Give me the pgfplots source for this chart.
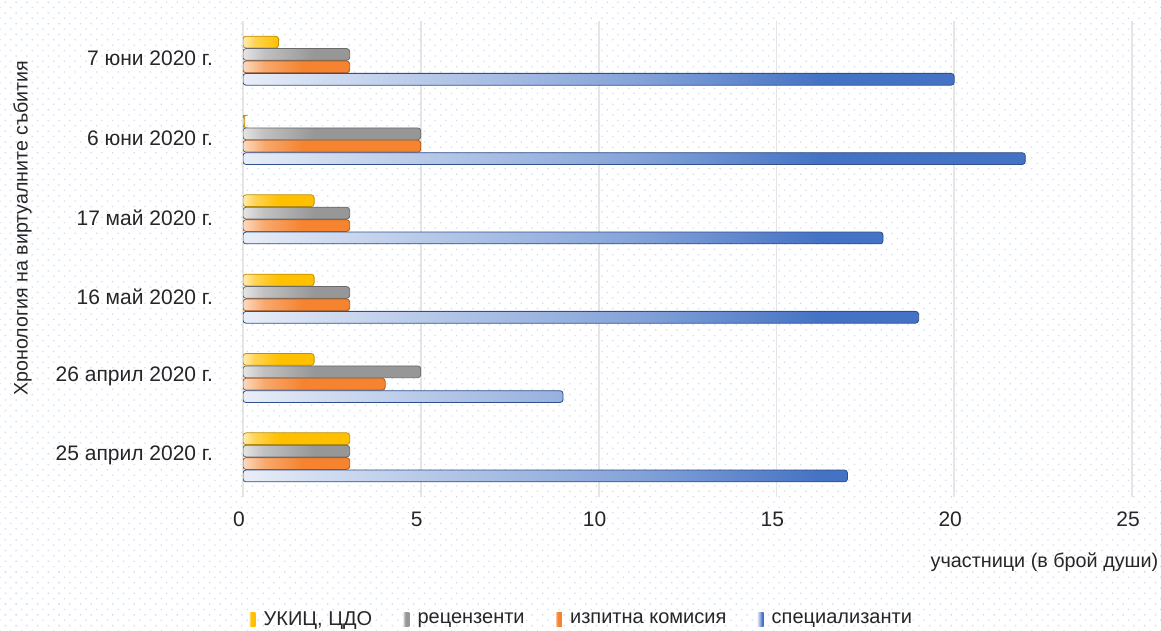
\documentclass[border=0pt]{standalone}
\usepackage{pgfplots}
\pgfplotsset{compat=1.18}
\usepackage{fontspec}
\setmainfont{Liberation Sans}
\usetikzlibrary{patterns.meta}
\definecolor{cYel}{HTML}{FFC000}
\definecolor{cGry}{HTML}{979797}
\definecolor{cOrg}{HTML}{F5832F}
\definecolor{cBlu}{HTML}{4472C4}
\definecolor{cDot}{HTML}{CCDCF2}
\pgfdeclarehorizontalshading{shY}{100bp}{color(0bp)=(cYel!30); color(25bp)=(cYel!30); color(31bp)=(cYel!70); color(42bp)=(cYel); color(100bp)=(cYel)}
\pgfdeclarehorizontalshading{shG}{100bp}{color(0bp)=(cGry!25); color(25bp)=(cGry!25); color(31bp)=(cGry!60); color(45bp)=(cGry); color(100bp)=(cGry)}
\pgfdeclarehorizontalshading{shO}{100bp}{color(0bp)=(cOrg!30); color(25bp)=(cOrg!30); color(31bp)=(cOrg!70); color(42bp)=(cOrg); color(100bp)=(cOrg)}
\pgfdeclarehorizontalshading{shB}{100bp}{color(0bp)=(cBlu!12); color(25bp)=(cBlu!12); color(30bp)=(cBlu!25); color(50bp)=(cBlu!65); color(62bp)=(cBlu); color(100bp)=(cBlu)}
\begin{document}
\begin{tikzpicture}
\fill[white] (0,0) rectangle (580.5pt,315.5pt);
\fill[pattern={Dots[distance=3.8pt,radius=0.45pt,angle=45]}, pattern color=cDot] (0,0) rectangle (580.5pt,315.5pt);
\useasboundingbox (0,0) rectangle (580.5pt,315.5pt);
\begin{axis}[
  at={(121.5pt,67pt)}, anchor=south west, scale only axis,
  width=444.5pt, height=238pt,
  xbar, bar width=5.9pt,
  xmin=0, xmax=25, ymin=-0.5, ymax=5.5,
  xtick={0,5,...,25}, ytick={0,...,5},
  yticklabels={25 април 2020 г., 26 април 2020 г., 16 май 2020 г., 17 май 2020 г., 6 юни 2020 г., 7 юни 2020 г.},
  axis line style={draw=none}, major tick length=0pt,
  xmajorgrids, grid style={black!10, line width=0.9pt},
  /pgf/number format/assume math mode=true,
  tick label style={font=\fontsize{10.5}{12}\selectfont, text=black!85},
  yticklabel style={anchor=east, xshift=-11.5pt, yshift=1pt},
  xticklabel style={anchor=north, yshift=-4pt, xshift=-2pt},
  xlabel={участници (в брой души)},
  xlabel style={at={(axis description cs:1.0375,-0.137)}, anchor=east, font=\fontsize{9.9}{12}\selectfont, text=black!85},
  ylabel={Хронология на виртуалните събития},
  ylabel style={at={(axis description cs:-0.248,0.565)}, anchor=center, rotate=0, font=\fontsize{9.8}{12}\selectfont, text=black!85},
  legend style={at={(axis description cs:0.382,-0.258)}, anchor=center, draw=none, fill=none,
    legend columns=4, font=\fontsize{10}{12}\selectfont, text=black!85,
    /tikz/every even column/.append style={column sep=13.5pt}},
  legend image code/.code={\path[#1, draw=none, rounded corners=0pt] (0pt,-3.5pt) rectangle (3.1pt,3.5pt); \path (5pt,0pt);},
]
\addplot[bar shift=9.3pt, draw=cYel!75!black, shading=shY, rounded corners=1.5pt]
  coordinates {(3,0) (2,1) (2,2) (2,3) (0.05,4) (1,5)};
\addlegendentry{УКИЦ, ЦДО}
\addplot[bar shift=3.1pt, draw=cGry!70!black, shading=shG, rounded corners=1.5pt]
  coordinates {(3,0) (5,1) (3,2) (3,3) (5,4) (3,5)};
\addlegendentry{рецензенти}
\addplot[bar shift=-3.1pt, draw=cOrg!70!black, shading=shO, rounded corners=1.5pt]
  coordinates {(3,0) (4,1) (3,2) (3,3) (5,4) (3,5)};
\addlegendentry{изпитна комисия}
\addplot[bar shift=-9.3pt, draw=cBlu!70!black, shading=shB, rounded corners=1.5pt]
  coordinates {(17,0) (9,1) (19,2) (18,3) (22,4) (20,5)};
\addlegendentry{специализанти}
\end{axis}
\end{tikzpicture}
\end{document}
